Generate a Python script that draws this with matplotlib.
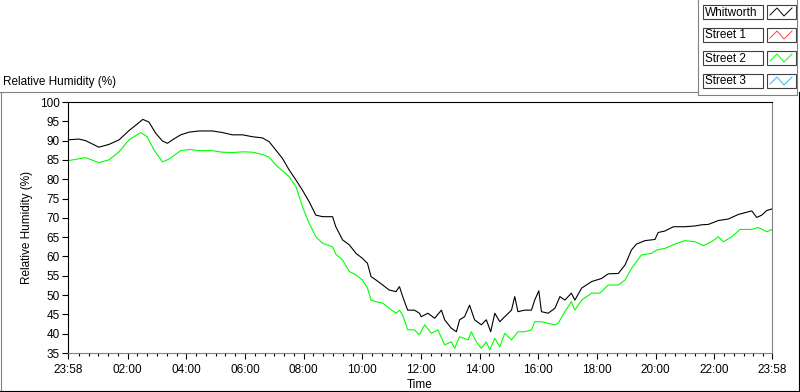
import matplotlib
matplotlib.use('Agg')
import numpy as np
from matplotlib import pyplot as plt
from matplotlib.lines import Line2D
from matplotlib.patches import Rectangle

# hours after 23:58 and relative humidity (%)
whitworth_t = [0.0, 0.37, 0.60, 1.05, 1.39, 1.74, 2.08, 2.36, 2.55, 2.76, 2.99, 3.22, 3.39, 3.56,
               3.84, 4.13, 4.47, 4.92, 5.26, 5.60, 5.95, 6.29, 6.63, 6.86, 7.08, 7.31, 7.54, 7.77,
               7.99, 8.22, 8.45, 8.68, 9.02, 9.13, 9.36, 9.59, 9.82, 10.04, 10.21, 10.33, 10.50,
               10.73, 10.95, 11.18, 11.30, 11.41, 11.58, 11.81, 11.98, 12.04, 12.27, 12.50, 12.73,
               12.84, 13.07, 13.24, 13.35, 13.52, 13.69, 13.86, 14.09, 14.26, 14.41, 14.55, 14.72,
               14.89, 15.12, 15.23, 15.34, 15.57, 15.80, 15.91, 16.05, 16.14, 16.37, 16.60, 16.77,
               16.94, 17.16, 17.28, 17.51, 17.85, 18.19, 18.42, 18.76, 18.99, 19.21, 19.38, 19.67,
               20.01, 20.12, 20.35, 20.64, 21.03, 21.38, 21.60, 21.83, 22.17, 22.51, 22.86, 23.31,
               23.48, 23.65, 23.82, 24.0]
whitworth_rh = [90.2, 90.4, 90.0, 88.3, 89.0, 90.2, 92.6, 94.3, 95.5, 94.8, 91.9, 89.9, 89.3, 90.2,
                91.5, 92.2, 92.5, 92.5, 92.1, 91.5, 91.5, 91.0, 90.7, 89.7, 87.6, 85.4, 82.4, 79.8,
                77.2, 74.2, 70.7, 70.3, 70.3, 67.7, 64.3, 63.0, 60.8, 59.5, 58.2, 54.8, 53.9,
                52.6, 51.3, 50.9, 52.2, 49.6, 46.1, 46.1, 45.3, 44.4, 45.3, 44.0, 46.1,
                43.6, 41.4, 40.5, 43.6, 44.4, 47.4, 43.6, 42.3, 43.6, 40.5, 45.3, 43.1,
                44.4, 46.1, 49.6, 45.7, 46.1, 46.1, 48.7, 51.1, 45.7, 45.3, 46.6, 49.6,
                48.7, 50.5, 48.7, 51.8, 53.5, 54.3, 55.5, 55.6, 57.8, 61.7, 63.2, 64.1,
                64.4, 66.2, 66.6, 67.7, 67.7, 67.9, 68.2, 68.3, 69.3, 69.7, 70.9, 71.8,
                70.1, 70.7, 71.9, 72.3]

street2_t = [0.0, 0.60, 1.05, 1.39, 1.74, 2.08, 2.48, 2.70, 2.93, 3.22, 3.44, 3.84, 4.13, 4.47,
             4.92, 5.26, 5.60, 5.95, 6.29, 6.63, 6.86, 7.08, 7.31, 7.54, 7.77, 7.99, 8.22, 8.45,
             8.68, 9.02, 9.13, 9.36, 9.59, 9.82, 10.04, 10.21, 10.33, 10.50, 10.73, 10.95, 11.18,
             11.30, 11.41, 11.58, 11.81, 11.98, 12.16, 12.39, 12.61, 12.84, 13.07, 13.18, 13.35,
             13.64, 13.75, 13.92, 14.09, 14.26, 14.38, 14.55, 14.72, 14.89, 15.12, 15.34, 15.57,
             15.80, 15.91, 16.14, 16.37, 16.60, 16.71, 16.94, 17.16, 17.28, 17.51, 17.85, 18.13,
             18.42, 18.76, 18.99, 19.21, 19.55, 19.90, 20.07, 20.35, 20.69, 21.03, 21.38, 21.66,
             21.94, 22.17, 22.34, 22.63, 22.91, 23.31, 23.54, 23.82, 24.0]
street2_rh = [84.8, 85.6, 84.3, 85.0, 87.1, 90.2, 92.1, 91.0, 87.6, 84.5, 85.2, 87.4, 87.7, 87.4,
              87.4, 87.0, 86.9, 87.1, 87.0, 86.4, 85.7, 83.7, 82.2, 80.7, 78.1, 72.9, 68.6, 65.1,
              63.4, 62.5, 60.6, 59.1, 56.1, 55.2, 53.9, 51.8, 48.7, 48.3, 47.9, 46.6, 45.3,
              46.1, 44.8, 41.0, 41.0, 39.7, 42.3, 40.1, 41.0, 37.1, 37.9, 36.2, 39.2,
              38.4, 40.5, 37.9, 36.2, 37.9, 35.8, 38.8, 36.6, 40.1, 38.4, 40.5, 40.5,
              41.0, 43.1, 43.1, 42.7, 42.3, 42.7, 45.7, 48.3, 46.1, 48.7, 50.5, 50.5,
              52.6, 52.6, 53.9, 56.9, 60.4, 60.8, 61.7, 62.1, 63.2, 64.1, 63.8, 62.8,
              63.8, 65.1, 63.8, 65.1, 67.0, 67.0, 67.5, 66.4, 67.0]

x_tick_labels = ['23:58', '02:00', '04:00', '06:00', '08:00', '10:00', '12:00',
                 '14:00', '16:00', '18:00', '20:00', '22:00', '23:58']
legend_names = ['Whitworth', 'Street 1', 'Street 2', 'Street 3']
legend_colors = ['black', '#ff4040', '#00ff00', '#33b5ff']

W, H = 800, 392
FS = 8.5


def px(x, y):
    return x / W, 1 - y / H


plt.rcParams['font.family'] = ['Liberation Sans', 'DejaVu Sans']
fig = plt.figure(figsize=(8, 3.92), dpi=100)
ax = fig.add_axes([68 / W, 1 - 353 / H, 704 / W, 251 / H])

ax.plot(whitworth_t, whitworth_rh, color=legend_colors[0], lw=0.8)
ax.plot(street2_t, street2_rh, color=legend_colors[2], lw=0.8)

ax.set_xlim(0, 24)
ax.set_ylim(35, 100)
ax.set_yticks(np.arange(35, 101, 5))
major = [0] + [2 / 60 + 2 * k for k in range(1, 12)] + [24]
ax.set_xticks(major)
ax.set_xticklabels(x_tick_labels)
minor = [2 / 60 + k / 3 for k in range(72)]
minor = [m for m in minor if 0 < m < 24 and min(abs(m - a) for a in major) > 0.1]
ax.set_xticks(minor, minor=True)
ax.tick_params(axis='both', which='major', labelsize=FS, length=4, width=0.8, pad=2)
ax.tick_params(axis='x', which='major', pad=4)
ax.tick_params(axis='x', which='minor', length=2.5, width=0.8)

ax.spines['top'].set_color('black')
ax.spines['left'].set_color('black')
ax.spines['bottom'].set_color('#808080')
ax.spines['right'].set_color('#808080')
for s in ax.spines.values():
    s.set_linewidth(0.8)

ax.set_xlabel('Time', fontsize=FS, labelpad=2)
ax.set_ylabel('Relative Humidity (%)', fontsize=FS)
ax.yaxis.set_label_coords(-0.05, 0.5)

fig.text(*px(3, 82), 'Relative Humidity (%)', fontsize=FS, va='center', ha='left')

# panel frame lines
frame = [((0, 92), (698, 92), '#808080'), ((698, 0), (698, 95), '#808080'),
         ((698, 95), (797, 95), '#808080'), ((797, 0), (797, 95), '#808080'),
         ((1, 92), (1, 392), '#808080'), ((0, 391), (800, 391), 'black'),
         ((799, 92), (799, 392), 'black')]
for (x0, y0), (x1, y1), c in frame:
    a, b = px(x0, y0)
    cc, d = px(x1, y1)
    fig.add_artist(Line2D([a, cc], [b, d], color=c, lw=0.8))

# legend rows
row_tops = [5, 28, 51, 74]
for top, name, col in zip(row_tops, legend_names, legend_colors):
    x0, y0 = px(703, top + 14)
    fig.add_artist(Rectangle((x0, y0), 60 / W, 14 / H, facecolor='white',
                             edgecolor='#404040', lw=0.8))
    fig.text(*px(705, top + 7.5), name, fontsize=FS, va='center', ha='left')
    x0, y0 = px(767, top + 14)
    fig.add_artist(Rectangle((x0, y0), 29 / W, 14 / H, facecolor='white',
                             edgecolor='#404040', lw=0.8))
    zx = [770, 777, 784, 792]
    zy = [top + 10, top + 3, top + 11, top + 3]
    pts = [px(a, b) for a, b in zip(zx, zy)]
    fig.add_artist(Line2D([p[0] for p in pts], [p[1] for p in pts], color=col, lw=0.7))

fig.savefig('out.png', dpi=100)
